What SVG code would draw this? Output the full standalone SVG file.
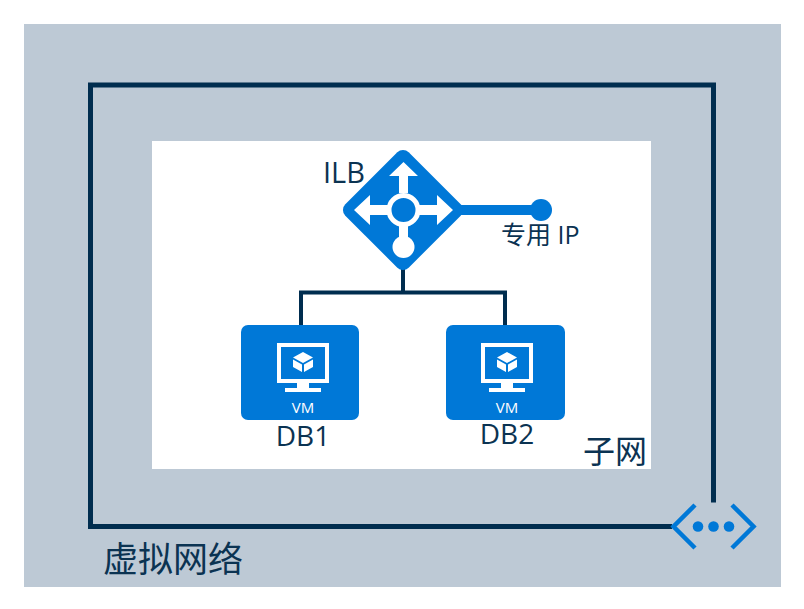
<svg xmlns="http://www.w3.org/2000/svg" width="804" height="609" viewBox="0 0 804 609">
<style>
text{font-family:"Open Sans","Noto Sans CJK SC",sans-serif;fill:#0b3352}
.cjk{font-family:"Noto Sans CJK SC",sans-serif}
.c{fill:none;stroke:#002d4f;stroke-linejoin:miter}
.b{fill:#0078d7}
.w{fill:#fff}
.vm{font-size:15px;fill:#fff;text-anchor:middle}
.name{font-size:28px;text-anchor:middle}
</style>
<defs>
<g id="vmicon">
<path class="w" fill-rule="evenodd" d="M-26-30H26V10H6V15H18V19H-18V15H-6V10H-26ZM-22-26V6H22V-26Z"/>
<path class="w" d="M0-21 10-15.500 0-10-10-15.500ZM-10-13.500-1-8.500V-1L-10-6ZM10-13.500 1-8.500V-1L10-6Z"/>
<text class="vm" x="0" y="40">VM</text>
</g>
</defs>
<g id="vnet"><rect x="24" y="24" width="757" height="563" fill="#bdc9d5"/>
<text class="cjk" x="103" y="572" font-size="35">虚拟网络</text></g>
<g id="subnet"><rect x="152" y="141" width="499" height="328" fill="#fff"/>
<text class="cjk" x="583" y="463" font-size="32">子网</text></g>
<g id="connectors">
<path class="c" stroke-width="5" d="M713.500 502.500V85H90.500V526.500H672"/>
<path class="c" stroke-width="4" d="M403 268V292.500M301 325V292.500H505V325"/>
<path stroke="#0078d7" stroke-width="10" fill="none" d="M455 210H541"/>
</g>
<g id="ilb">
<rect x="-44.800" y="-44.800" width="89.600" height="89.600" rx="8" class="b" transform="translate(403 210) rotate(45)"/>
<path class="w" d="M403.500 162 418 176H408V193H399V176H389ZM354 210 370 195V205H388V215H370V225ZM453 210 437 195V205H419V215H437V225Z"/>
<rect x="399" y="226" width="9" height="14" class="w"/>
<circle cx="403.500" cy="210" r="14.500" class="b" stroke="#fff" stroke-width="5"/>
<circle cx="403.500" cy="247" r="11" class="w"/>
<text x="323" y="183" style="font-size:29px">ILB</text>
</g>
<g id="vip"><circle cx="541" cy="210" r="11" class="b"/>
<text x="501" y="244" style="font-size:25px">专用 IP</text></g>
<g id="db1"><rect x="241" y="325" width="118" height="95" rx="7" class="b"/><use href="#vmicon" x="303" y="373"/>
<text class="name" x="303" y="446">DB1</text></g>
<g id="db2"><rect x="446" y="325" width="119" height="95" rx="7" class="b"/><use href="#vmicon" x="507" y="373"/>
<text class="name" x="507" y="444">DB2</text></g>
<g id="gateway">
<path fill="none" stroke="#0078d7" stroke-width="4.500" d="M695 505 673.500 526.500 695 548M732 505 753.500 526.500 732 548"/>
<circle cx="698" cy="526.500" r="5.300" class="b"/><circle cx="713.500" cy="526.500" r="5.300" class="b"/><circle cx="729" cy="526.500" r="5.300" class="b"/>
</g>
</svg>
